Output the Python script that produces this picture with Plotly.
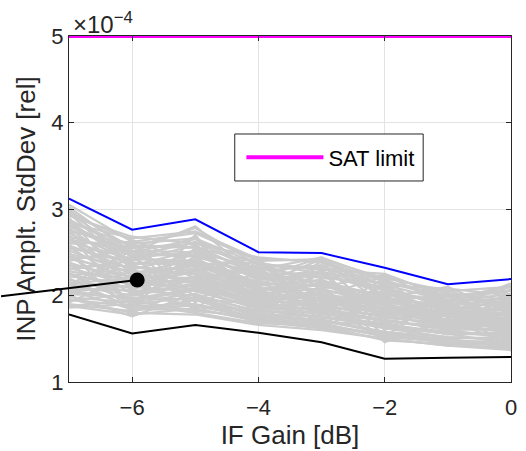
import plotly.graph_objects as go

# IF gain steps [dB]
if_gain = [-7, -6, -5, -4, -3, -2, -1, 0]

# Values in units of 1e-4
upper_env = [3.12, 2.76, 2.88, 2.50, 2.49, 2.32, 2.13, 2.19]
lower_env = [1.78, 1.56, 1.66, 1.57, 1.46, 1.27, 1.28, 1.29]
sat_limit = [5, 5, 5, 5, 5, 5, 5, 5]

gray_runs = [
    [3.05, 2.62, 2.72, 2.40, 2.42, 2.20, 2.05, 2.10],
    [2.98, 2.55, 2.78, 2.35, 2.30, 2.25, 1.98, 2.05],
    [2.92, 2.68, 2.60, 2.44, 2.38, 2.12, 2.08, 2.00],
    [2.88, 2.50, 2.65, 2.30, 2.44, 2.18, 1.95, 2.12],
    [2.85, 2.58, 2.55, 2.38, 2.25, 2.22, 2.02, 1.95],
    [2.80, 2.45, 2.62, 2.28, 2.35, 2.05, 1.92, 2.02],
    [2.76, 2.52, 2.50, 2.32, 2.20, 2.15, 1.98, 1.90],
    [2.72, 2.40, 2.58, 2.22, 2.28, 2.08, 1.88, 1.98],
    [2.68, 2.48, 2.45, 2.25, 2.15, 2.00, 1.95, 1.85],
    [2.65, 2.35, 2.52, 2.18, 2.22, 2.10, 1.85, 1.92],
    [2.62, 2.42, 2.40, 2.12, 2.18, 1.95, 1.90, 1.88],
    [2.58, 2.30, 2.48, 2.20, 2.10, 2.02, 1.82, 1.80],
    [2.55, 2.38, 2.35, 2.08, 2.14, 1.92, 1.86, 1.84],
    [2.52, 2.25, 2.42, 2.15, 2.05, 1.98, 1.78, 1.86],
    [2.48, 2.32, 2.30, 2.02, 2.08, 1.88, 1.82, 1.76],
    [2.45, 2.20, 2.38, 2.10, 2.00, 1.94, 1.75, 1.80],
    [2.42, 2.28, 2.25, 1.98, 2.04, 1.85, 1.80, 1.72],
    [2.38, 2.15, 2.32, 2.05, 1.95, 1.90, 1.72, 1.78],
    [2.35, 2.22, 2.20, 1.95, 1.98, 1.80, 1.76, 1.70],
    [2.32, 2.12, 2.28, 2.00, 1.90, 1.86, 1.70, 1.74],
    [2.28, 2.18, 2.15, 1.92, 1.94, 1.78, 1.72, 1.66],
    [2.25, 2.08, 2.22, 1.96, 1.86, 1.82, 1.66, 1.70],
    [2.22, 2.14, 2.10, 1.88, 1.90, 1.74, 1.68, 1.62],
    [2.18, 2.04, 2.18, 1.92, 1.82, 1.78, 1.62, 1.66],
    [2.15, 2.10, 2.05, 1.85, 1.86, 1.70, 1.64, 1.58],
    [2.12, 2.00, 2.12, 1.88, 1.78, 1.72, 1.60, 1.62],
    [2.08, 2.06, 2.00, 1.82, 1.80, 1.66, 1.58, 1.55],
    [2.05, 1.96, 2.08, 1.84, 1.74, 1.68, 1.55, 1.58],
    [2.02, 1.98, 1.95, 1.78, 1.76, 1.62, 1.52, 1.50],
    [1.98, 1.92, 2.02, 1.80, 1.70, 1.65, 1.50, 1.52],
    [1.95, 1.88, 1.90, 1.75, 1.72, 1.58, 1.48, 1.46],
    [1.90, 1.82, 1.95, 1.72, 1.66, 1.55, 1.45, 1.42],
    [1.88, 1.78, 1.85, 1.70, 1.62, 1.50, 1.42, 1.40],
    [1.86, 1.90, 1.80, 1.68, 1.65, 1.48, 1.44, 1.38],
    [2.90, 2.05, 2.45, 1.95, 2.35, 1.75, 2.00, 1.60],
    [2.00, 2.58, 1.85, 2.30, 1.70, 2.15, 1.55, 2.08],
    [2.70, 1.88, 2.70, 1.80, 2.30, 1.60, 1.95, 1.48],
    [2.10, 2.45, 1.92, 2.40, 1.78, 2.20, 1.62, 2.00],
    [2.95, 2.30, 2.05, 2.25, 1.88, 2.05, 1.70, 1.95],
    [2.40, 2.55, 2.60, 1.90, 2.40, 1.68, 1.88, 1.55],
    [3.00, 2.35, 2.15, 2.35, 2.00, 2.22, 1.58, 1.90],
    [2.20, 1.85, 2.55, 2.05, 1.68, 1.95, 1.78, 1.45],
    [2.60, 2.62, 1.98, 1.75, 2.28, 1.52, 2.04, 1.68],
    [1.92, 2.25, 2.35, 2.42, 1.85, 2.10, 1.85, 2.14],
    [2.50, 1.80, 2.10, 2.12, 2.42, 1.88, 1.65, 1.75],
    [2.82, 2.48, 1.82, 2.00, 1.62, 2.00, 2.06, 1.82],
    [2.30, 2.40, 2.68, 1.70, 2.12, 1.46, 1.74, 2.02],
    [2.75, 2.10, 2.30, 2.28, 1.92, 1.80, 1.92, 1.36],
    [2.96, 2.44, 2.50, 2.18, 2.26, 2.02, 1.84, 1.78],
    [2.86, 2.36, 2.40, 2.06, 2.12, 1.90, 1.70, 1.64],
    [2.78, 2.26, 2.34, 2.14, 1.96, 1.84, 1.78, 1.68],
    [2.66, 2.18, 2.26, 1.94, 2.02, 1.76, 1.82, 1.60],
    [2.56, 2.12, 2.20, 2.04, 1.88, 1.92, 1.68, 1.72],
    [2.46, 2.02, 2.14, 1.90, 1.84, 1.72, 1.60, 1.50],
    [2.36, 1.94, 2.06, 1.86, 1.80, 1.64, 1.56, 1.44],
    [2.26, 1.90, 1.98, 1.78, 1.72, 1.56, 1.50, 1.40],
    [2.16, 1.86, 1.88, 1.74, 1.68, 1.52, 1.46, 1.42],
    [2.06, 1.84, 1.84, 1.72, 1.64, 1.54, 1.48, 1.44],
    [1.96, 1.80, 1.78, 1.66, 1.60, 1.50, 1.42, 1.37],
    [2.84, 2.66, 2.74, 2.42, 2.40, 2.16, 2.00, 2.06],
    [2.74, 2.60, 2.66, 2.36, 2.32, 2.12, 1.94, 1.96],
    [2.64, 2.56, 2.56, 2.26, 2.24, 2.06, 1.90, 1.94],
    [2.54, 2.50, 2.46, 2.22, 2.16, 1.98, 1.86, 1.82],
    [2.44, 2.44, 2.36, 2.16, 2.06, 1.96, 1.80, 1.78],
    [2.34, 2.34, 2.24, 2.08, 2.00, 1.88, 1.76, 1.74],
    [2.24, 2.26, 2.16, 2.02, 1.94, 1.84, 1.70, 1.68],
    [2.14, 2.20, 2.06, 1.96, 1.88, 1.76, 1.66, 1.64],
    [2.04, 2.12, 1.96, 1.90, 1.82, 1.70, 1.62, 1.60],
    [1.94, 2.02, 1.88, 1.82, 1.76, 1.64, 1.56, 1.54],
    [1.88, 1.94, 1.82, 1.76, 1.70, 1.58, 1.52, 1.48],
    [3.02, 2.50, 2.80, 2.20, 2.44, 1.98, 2.10, 1.78],
    [2.94, 2.64, 2.36, 2.38, 2.10, 2.24, 1.88, 2.10],
    [2.00, 1.76, 2.02, 1.66, 1.92, 1.48, 1.70, 1.46],
    [2.12, 2.52, 2.20, 2.30, 1.98, 1.92, 2.02, 1.88],
]

# annotated point
marker_x = [-5.92]
marker_y = [2.18]

x_ticks = [-6, -4, -2, 0]
x_ticklabels = ["\u22126", "\u22124", "\u22122", "0"]
y_ticks = [1, 2, 3, 4, 5]

FONT = "Liberation Sans, Arial, Helvetica, sans-serif"
TXT = "#262626"

fig = go.Figure()
for run in gray_runs:
    fig.add_trace(go.Scatter(x=if_gain, y=run, mode="lines",
                             line=dict(color="#cbcbcb", width=2.2),
                             showlegend=False, hoverinfo="skip"))
fig.add_trace(go.Scatter(x=if_gain, y=upper_env, mode="lines",
                         line=dict(color="#0000ff", width=2), showlegend=False))
fig.add_trace(go.Scatter(x=if_gain, y=lower_env, mode="lines",
                         line=dict(color="#000000", width=2), showlegend=False))
fig.add_trace(go.Scatter(x=if_gain, y=sat_limit, mode="lines", name="SAT limit",
                         line=dict(color="#ff00ff", width=4), showlegend=True))
fig.add_trace(go.Scatter(x=marker_x, y=marker_y, mode="markers",
                         marker=dict(color="black", size=15),
                         showlegend=False, cliponaxis=False))

fig.add_annotation(x=marker_x[0], y=marker_y[0], xref="x", yref="y",
                   ax=-8.1, ay=1.99, axref="x", ayref="y",
                   text="", showarrow=True, arrowhead=0, arrowwidth=2,
                   arrowcolor="black")
fig.add_annotation(x=0, y=1, xref="paper", yref="paper", xanchor="left",
                   yanchor="bottom", yshift=-4, xshift=2,
                   text="\u00d710<sup>\u22124</sup>", showarrow=False,
                   font=dict(family=FONT, size=24, color=TXT))

# legend frame
fig.add_shape(type="rect", xref="paper", yref="paper",
              x0=0.375, x1=0.8013, y0=0.581, y1=0.7168,
              fillcolor="white", line=dict(color=TXT, width=1), layer="above")

axis_common = dict(showline=True, linecolor=TXT, linewidth=1, mirror="ticks",
                   ticks="inside", ticklen=5, tickcolor=TXT,
                   showgrid=True, gridcolor="#e3e3e3", gridwidth=1,
                   zeroline=False,
                   tickfont=dict(family=FONT, size=22, color=TXT))

fig.update_xaxes(range=[-7, 0], tickvals=x_ticks, ticktext=x_ticklabels,
                 ticklabelstandoff=6,
                 title=dict(text="IF Gain [dB]", standoff=2,
                            font=dict(family=FONT, size=26, color=TXT)),
                 **axis_common)
fig.update_yaxes(range=[1, 5], tickvals=y_ticks,
                 title=dict(text="INP Amplt. StdDev [rel]", standoff=8,
                            font=dict(family=FONT, size=26, color=TXT)),
                 **axis_common)

fig.update_layout(
    width=526, height=451,
    margin=dict(l=69, r=9, t=36, b=69),
    plot_bgcolor="white", paper_bgcolor="white",
    font=dict(family=FONT, color=TXT),
    legend=dict(x=0.39, y=0.649, xanchor="left", yanchor="middle",
                bgcolor="rgba(0,0,0,0)", borderwidth=0,
                font=dict(family=FONT, size=22, color="#000000"),
                itemwidth=77),
)

fig.write_html("out.html")
